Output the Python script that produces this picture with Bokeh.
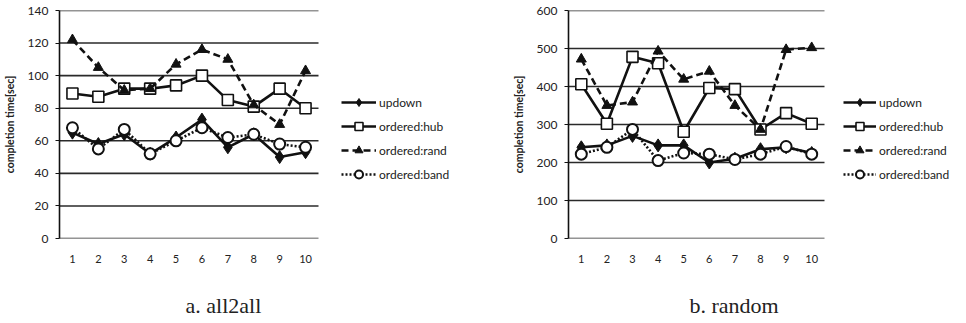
from bokeh.plotting import figure
from bokeh.models import Legend, LegendItem, Title, FixedTicker, Range1d
from bokeh.layouts import row
from bokeh.embed import file_html
from bokeh.resources import INLINE

runs = [1, 2, 3, 4, 5, 6, 7, 8, 9, 10]

# a. all2all
a_updown = [65, 58, 64, 52, 62, 73, 56, 64, 50, 53]
a_hub = [89, 87, 92, 92, 94, 100, 85, 81, 92, 80]
a_rand = [122, 105, 91, 92, 107, 116, 110, 82, 70, 103]
a_band = [68, 55, 67, 52, 60, 68, 62, 64, 58, 56]
a_yticks = [0, 20, 40, 60, 80, 100, 120, 140]

# b. random
b_updown = [240, 245, 270, 245, 245, 200, 210, 235, 240, 225]
b_hub = [406, 302, 478, 461, 281, 396, 393, 287, 330, 302]
b_rand = [472, 350, 359, 493, 419, 440, 350, 287, 497, 502]
b_band = [222, 240, 287, 205, 225, 222, 208, 222, 242, 222]
b_yticks = [0, 100, 200, 300, 400, 500, 600]

names = ["updown", "ordered:hub", "ordered:rand", "ordered:band"]
captions = ["a. all2all", "b. random"]

SANS = "Lato"
INK = "#111111"
FRAME_H = 228


def make(series, yticks, caption, left, plot_w, extra_w, leg_x, glyph_w, cap_off):
    total_w = plot_w + extra_w
    x_end = 0.5 + 10.0 * total_w / plot_w
    p = figure(frame_width=total_w, frame_height=FRAME_H, output_backend="svg",
               toolbar_location=None, min_border_left=left, min_border_right=0,
               min_border_top=10, min_border_bottom=84,
               x_range=Range1d(0.5, x_end), y_range=Range1d(yticks[0], yticks[-1]))
    p.outline_line_color = None
    p.background_fill_color = "white"
    p.xgrid.grid_line_color = None
    p.ygrid.grid_line_color = None

    # horizontal gridlines only across the plotted categories
    p.segment(x0=[0.5] * len(yticks), x1=[10.5] * len(yticks), y0=yticks, y1=yticks,
              line_color="#2a2a2a", line_width=1.6)

    p.yaxis.ticker = FixedTicker(ticks=yticks)
    p.yaxis.axis_line_color = INK
    p.yaxis.axis_line_width = 1.6
    p.yaxis.major_tick_line_color = INK
    p.yaxis.major_tick_in = 0
    p.yaxis.major_tick_out = 4
    p.yaxis.minor_tick_line_color = None
    p.yaxis.major_label_text_font = SANS
    p.yaxis.major_label_text_font_size = "12px"
    p.yaxis.major_label_text_color = "#222222"
    p.yaxis.major_label_standoff = 7
    p.yaxis.axis_label = "completion time[sec]"
    p.yaxis.axis_label_text_font = SANS
    p.yaxis.axis_label_text_font_style = "bold"
    p.yaxis.axis_label_text_font_size = "10.5px"
    p.yaxis.axis_label_text_color = "#222222"
    p.yaxis.axis_label_standoff = 9

    p.xaxis.ticker = FixedTicker(ticks=runs)
    p.xaxis.axis_line_color = None
    p.xaxis.major_tick_line_color = None
    p.xaxis.minor_tick_line_color = None
    p.xaxis.major_label_text_font = SANS
    p.xaxis.major_label_text_font_size = "11px"
    p.xaxis.major_label_text_color = "#222222"
    p.xaxis.major_label_standoff = 10

    up, hub, rnd, band = series
    items = []
    l = p.line(runs, up, line_color=INK, line_width=2.6)
    m = p.scatter(runs, up, marker="diamond", size=13, fill_color=INK, line_color=INK)
    items.append(LegendItem(label=names[0], renderers=[l, m]))
    l = p.line(runs, hub, line_color=INK, line_width=2.6)
    m = p.scatter(runs, hub, marker="square", size=11, fill_color="white",
                  line_color=INK, line_width=1.6)
    items.append(LegendItem(label=names[1], renderers=[l, m]))
    l = p.line(runs, rnd, line_color=INK, line_width=2.6, line_dash="7 4")
    m = p.scatter(runs, rnd, marker="triangle", size=10, fill_color=INK, line_color=INK)
    items.append(LegendItem(label=names[2], renderers=[l, m]))
    l = p.line(runs, band, line_color=INK, line_width=2.6, line_dash="2 2")
    m = p.scatter(runs, band, marker="circle", size=11, fill_color="white",
                  line_color=INK, line_width=2)
    items.append(LegendItem(label=names[3], renderers=[l, m]))

    leg = Legend(items=items, location=(plot_w + leg_x, 54), padding=0, spacing=4,
                 label_height=20, glyph_height=20, glyph_width=glyph_w,
                 label_standoff=3, label_text_font=SANS,
                 label_text_font_size="12px", label_text_color="#222222",
                 border_line_color=None, background_fill_alpha=0, margin=0)
    p.add_layout(leg)

    p.add_layout(Title(text=caption, text_font="Liberation Serif",
                       text_font_size="22px", text_font_style="normal",
                       text_color="#222222", align="left", offset=cap_off,
                       standoff=50), "below")
    return p


p1 = make((a_updown, a_hub, a_rand, a_band), a_yticks, captions[0],
          55, 259, 161, 23, 35, 126)
p2 = make((b_updown, b_hub, b_rand, b_band), b_yticks, captions[1],
          89, 256, 130, 19, 33, 121)

page = row(p1, p2)
open("out.html", "w").write(file_html(page, INLINE))
